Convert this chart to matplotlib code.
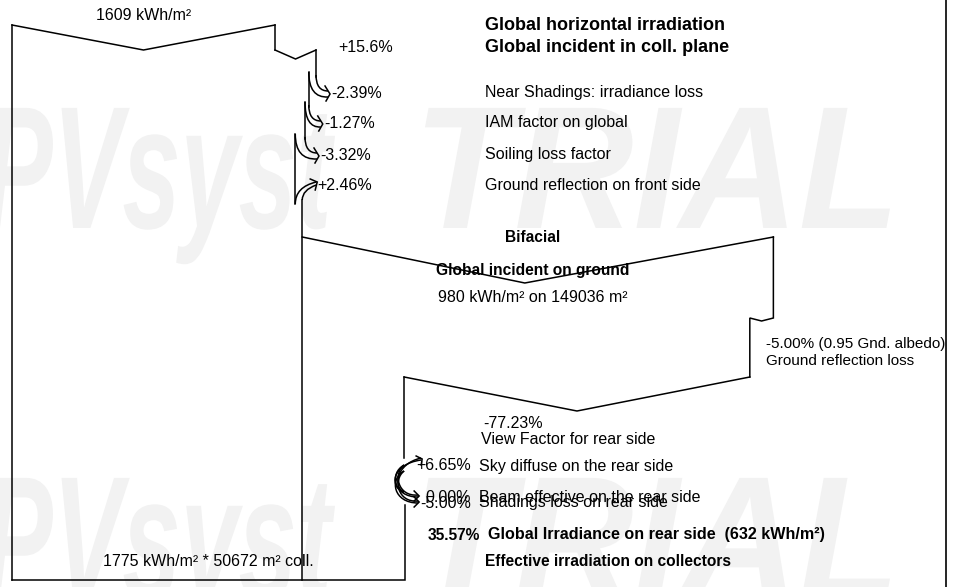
import numpy as np
import matplotlib.pyplot as plt
from matplotlib.path import Path
from matplotlib.patches import PathPatch
from matplotlib.textpath import TextPath
from matplotlib.font_manager import FontProperties
from matplotlib.transforms import Affine2D

plt.rcParams['font.family'] = ['Liberation Sans', 'DejaVu Sans']

# irradiation values
ghi = 1609                      # kWh/m2, global horizontal
front_pct = [15.6, -2.39, -1.27, -3.32, 2.46]
front_names = ["Global incident in coll. plane",
               "Near Shadings: irradiance loss",
               "IAM factor on global",
               "Soiling loss factor",
               "Ground reflection on front side"]
eff_front = 1775                # kWh/m2 on collectors
coll_area = 50672               # m2
ground_irr = 980                # kWh/m2 on ground
ground_area = 149036            # m2
albedo_loss = -5.00
view_factor = -77.23
rear_pct = [6.65, 0.00, -5.00]
rear_names = ["Sky diffuse on the rear side",
              "Beam effective on the rear side",
              "Shadings loss on rear side"]
rear_total = 35.57
rear_irr = 632

LW = 1.1
FS = 11.5
FB = 11.2
fig = plt.figure(figsize=(9.55, 5.87), dpi=100)
ax = fig.add_axes([0, 0, 1, 1])
ax.set_xlim(0, 955)
ax.set_ylim(587, 0)
ax.axis('off')

# faint watermark, squeezed into a box
wm_font = FontProperties(family='Liberation Sans', weight='bold', style='italic')


def watermark(txt, left, right, base, cap=125):
    tp = TextPath((0, 0), txt, size=1, prop=wm_font)
    ext = tp.get_extents()
    sx = (right - left) / ext.width
    sy = cap / 0.716
    tr = Affine2D().translate(-ext.x0, 0).scale(sx, -sy).translate(left, base)
    ax.add_patch(PathPatch(tr.transform_path(tp), fc='#f2f2f2', ec='none', zorder=0))


for base in (228, 598):
    watermark("PVsyst", -15, 335, base)
    watermark("TRIAL", 425, 890, base)


def line(xs, ys):
    ax.plot(xs, ys, color='black', lw=LW, solid_joinstyle='miter', zorder=2)


def bez(pts, codes):
    ax.add_patch(PathPatch(Path(pts, codes), fill=False, lw=LW, ec='black', zorder=2))


def hook_loss(a, b, y, tip):
    # band bent to the right into an arrow (loss)
    bez([(a, y - 18), (a, y - 2), (tip - 2, y - 2)], [Path.MOVETO, Path.CURVE3, Path.CURVE3])
    bez([(b, y - 21), (b, y + 5), (tip - 2, y + 4)], [Path.MOVETO, Path.CURVE3, Path.CURVE3])
    line([tip - 5, tip, tip - 4], [y - 7, y + 1, y + 8])


def hook_gain(a, b, y, tip):
    # arrow coming back into the band (gain)
    bez([(a, y + 18), (a, y + 1), (tip, y - 4)], [Path.MOVETO, Path.CURVE3, Path.CURVE3])
    bez([(b, y + 14), (b, y + 4), (tip, y - 1)], [Path.MOVETO, Path.CURVE3, Path.CURVE3])
    line([tip - 6, tip + 1, tip - 1], [y - 7, y - 4, y + 4])


# front side: width proportional to irradiation
x0 = 12
s = 263 / ghi
x_top = x0 + ghi * s
y_top, y_inc = 25, 50

line([x0, x0], [y_top, 580])
line([x0, (x0 + x_top) / 2, x_top], [y_top, y_inc, y_top])
ax.text((x0 + x_top) / 2, 15, f"{ghi} kWh/m²", fontsize=FS, ha='center', va='center')

irr = ghi * (1 + front_pct[0] / 100)
x_inc = x0 + irr * s
line([x_top, x_top], [y_top, y_inc])
line([x_top, (x_top + x_inc) / 2, x_inc], [y_inc, y_inc + 9, y_inc])
ax.text(x_inc + 22, 48, f"{front_pct[0]:+.1f}%", fontsize=FS, va='center')
ax.text(485, 25, "Global horizontal irradiation", fontsize=13, fontweight='bold', va='center')
ax.text(485, 47, front_names[0], fontsize=13, fontweight='bold', va='center')

rows = [93, 123, 155, 186]
edge = x_inc
seg_start = y_inc
for p, name, y in zip(front_pct[1:], front_names[1:], rows):
    irr = irr * (1 + p / 100)
    new = x0 + irr * s
    if p < 0:
        line([edge, edge], [seg_start, y - 16])
        tip = edge + 14
        hook_loss(edge, new, y, tip)
        seg_start = y - 21
    else:
        line([edge, edge], [seg_start, y + 18])
        tip = new + 14
        hook_gain(edge, new, y, tip)
        seg_start = y + 14
    ax.text(tip + 1, y, f"{p:+.2f}%", fontsize=FS, va='center')
    ax.text(485, y, name, fontsize=FS, va='center')
    edge = new
x_front = edge
line([x_front, x_front], [seg_start, 580])

# bifacial part: width proportional to energy (irradiation x area)
e = s / coll_area
ground_w = ground_irr * ground_area * e
x_gnd = x_front + ground_w
y_b = 237
line([x_front, (x_front + x_gnd) / 2 - 13, x_gnd], [y_b, 283, y_b])
ax.text(533, 237, "Bifacial", fontsize=FB, fontweight='bold', va='center', ha='center')
ax.text(533, 271, "Global incident on ground", fontsize=FB, fontweight='bold', va='center', ha='center')
ax.text(533, 297, f"{ground_irr} kWh/m² on {ground_area} m²", fontsize=FS, va='center', ha='center')

w = ground_w * (1 + albedo_loss / 100)
x_alb = x_front + w
line([x_gnd, x_gnd, (x_gnd + x_alb) / 2, x_alb, x_alb], [y_b, 318, 321, 318, 377])
ax.text(766, 344, f"{albedo_loss:.2f}% (0.95 Gnd. albedo)", fontsize=11, va='center')
ax.text(766, 361, "Ground reflection loss", fontsize=11, va='center')

w = w * (1 + view_factor / 100)
x_rear = x_front + w
line([x_alb, (x_alb + x_rear) / 2, x_rear], [377, 411, 377])
ax.text(513, 424, f"{view_factor:.2f}%", fontsize=FS, va='center', ha='center')
ax.text(481, 440, "View Factor for rear side", fontsize=FS, va='center')

line([x_rear, x_rear], [377, 458])
# rear side gain / losses, hooks on the left of the edge
r_rows = [466, 497, 503]
for p, name, y in zip(rear_pct, rear_names, r_rows):
    if p > 0:
        for d in (0, 4):
            bez([(x_rear, y + 26), (x_rear - 15 + d, y + 22), (x_rear - 13 + d, y - 2),
                 (x_rear + 17, y - 6 - d / 2)],
                [Path.MOVETO, Path.CURVE4, Path.CURVE4, Path.CURVE4])
        line([x_rear + 12, x_rear + 18, x_rear + 17], [y - 10, y - 7, y - 1])
    else:
        for d in (0, 4):
            bez([(x_rear, y - 32), (x_rear - 15 + d, y - 24), (x_rear - 11 + d, y),
                 (x_rear + 14, y - d / 2)],
                [Path.MOVETO, Path.CURVE4, Path.CURVE4, Path.CURVE4])
        line([x_rear + 10, x_rear + 15, x_rear + 10], [y - 6, y - 1, y + 4])
    ax.text(471, y, f"{p:+.2f}%" if p != 0 else f"{p:.2f}%", fontsize=FS, va='center', ha='right')
    ax.text(479, y, name, fontsize=FS, va='center')

x_end = x_front + (x_front - x0) * rear_total / 100
line([x_end, x_end, x0], [505, 580, 580])

ax.text(428, 535, f"{rear_total:.2f}%", fontsize=FB, fontweight='bold', va='center')
ax.text(488, 535, f"Global Irradiance on rear side  ({rear_irr} kWh/m²)", fontsize=11.6,
        fontweight='bold', va='center')
ax.text(485, 562, "Effective irradiation on collectors", fontsize=FB, fontweight='bold', va='center')
ax.text(103, 562, f"{eff_front} kWh/m² * {coll_area} m² coll.", fontsize=FS, va='center')

# page frame on the right
ax.plot([946, 946], [0, 587], color='black', lw=1.2)

fig.savefig('out.png', dpi=100, facecolor='white')
